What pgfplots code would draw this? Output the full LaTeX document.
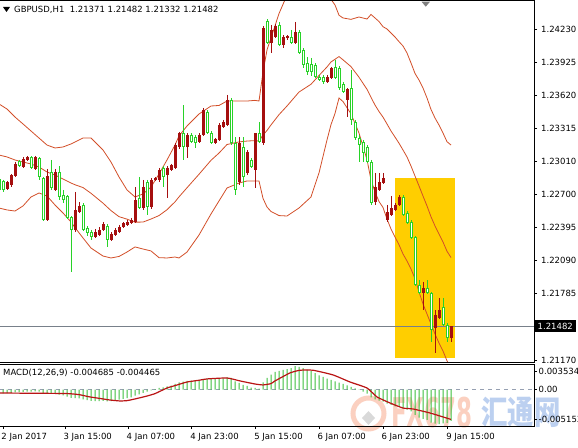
\documentclass[border=0pt]{standalone}
\usepackage{fontspec}
\setmainfont{DejaVu Sans}
\newfontfamily\cjk{Noto Sans CJK SC}
\usepackage{graphicx}
\usepackage{pgfplots}
\usepackage{pgfplotstable}
\pgfplotsset{compat=1.18}

\definecolor{cgreen}{RGB}{40,210,40}
\definecolor{cred}{RGB}{165,15,15}
\definecolor{bband}{RGB}{210,78,40}
\definecolor{hlyellow}{RGB}{255,206,0}
\definecolor{hline}{RGB}{120,128,138}
\definecolor{hgreen}{RGB}{60,190,60}
\definecolor{sigred}{RGB}{185,20,20}
\definecolor{zgray}{RGB}{150,160,178}
\definecolor{wmorange}{RGB}{251,208,192}
\definecolor{wmblue}{RGB}{188,208,240}
\newcommand\mtf{\fontsize{8.5bp}{10bp}\selectfont}

% bearish (green, hollow) candles
\pgfplotstableread{
x o h l c
0 1.22843 1.22852 1.22732 1.22742
1 1.22825 1.22834 1.22723 1.22742
5 1.23010 1.23019 1.22954 1.22963
8 1.23047 1.23056 1.22936 1.22945
10 1.23037 1.23047 1.22834 1.22862
11 1.22852 1.22862 1.22455 1.22464
13 1.22908 1.23019 1.22742 1.22760
15 1.22908 1.22963 1.22649 1.22677
16 1.22695 1.22742 1.22621 1.22649
17 1.22686 1.22695 1.22473 1.22483
18 1.22492 1.22501 1.21983 1.22372
21 1.22603 1.22621 1.22362 1.22372
22 1.22390 1.22409 1.22316 1.22344
23 1.22353 1.22372 1.22279 1.22307
27 1.22409 1.22427 1.22214 1.22279
35 1.22667 1.22862 1.22566 1.22575
37 1.22815 1.22834 1.22510 1.22584
41 1.22945 1.22963 1.22769 1.22862
46 1.23268 1.23527 1.23019 1.23139
48 1.23250 1.23268 1.23176 1.23185
49 1.23231 1.23250 1.23130 1.23176
52 1.23463 1.23481 1.23259 1.23268
53 1.23268 1.23287 1.23167 1.23176
58 1.23574 1.23592 1.23157 1.23176
59 1.23176 1.23231 1.22695 1.22742
61 1.23139 1.23231 1.22769 1.22862
63 1.23019 1.23037 1.22945 1.22954
65 1.23268 1.23370 1.23176 1.23185
67 1.24304 1.24322 1.24091 1.24100
70 1.24267 1.24295 1.24073 1.24082
73 1.24156 1.24221 1.24091 1.24100
75 1.24202 1.24221 1.23999 1.24008
76 1.24036 1.24054 1.23869 1.23897
77 1.23916 1.23971 1.23805 1.23832
78 1.23906 1.23962 1.23795 1.23832
79 1.23897 1.23916 1.23777 1.23786
80 1.23786 1.23805 1.23749 1.23758
81 1.23786 1.23805 1.23721 1.23740
84 1.23879 1.23943 1.23768 1.23777
85 1.23869 1.23888 1.23666 1.23684
86 1.23721 1.23740 1.23638 1.23647
88 1.23684 1.23851 1.23342 1.23389
89 1.23370 1.23389 1.23204 1.23222
90 1.23222 1.23250 1.23000 1.23157
91 1.23185 1.23204 1.23000 1.23084
92 1.23139 1.23157 1.22991 1.23000
93 1.23000 1.23019 1.22603 1.22621
101 1.22677 1.22695 1.22501 1.22510
102 1.22529 1.22547 1.22427 1.22436
103 1.22446 1.22464 1.22288 1.22298
104 1.22307 1.22316 1.21854 1.21863
105 1.21863 1.21909 1.21780 1.21789
107 1.21835 1.21909 1.21780 1.21789
108 1.21789 1.21799 1.21336 1.21447
111 1.21660 1.21743 1.21484 1.21493
112 1.21493 1.21512 1.21336 1.21373
}\down

% bullish (dark red, filled) candles
\pgfplotstableread{
x o h l c
2 1.22751 1.22825 1.22742 1.22815
3 1.22788 1.22889 1.22769 1.22880
4 1.22871 1.23000 1.22862 1.22982
6 1.22954 1.23047 1.22945 1.23028
7 1.23019 1.23056 1.23010 1.23047
9 1.22936 1.23056 1.22926 1.23047
12 1.22464 1.22936 1.22455 1.22871
14 1.22742 1.22936 1.22732 1.22908
19 1.22372 1.22723 1.22353 1.22557
20 1.22538 1.22630 1.22529 1.22594
24 1.22307 1.22381 1.22298 1.22353
25 1.22325 1.22399 1.22316 1.22372
26 1.22372 1.22446 1.22362 1.22427
28 1.22279 1.22353 1.22270 1.22335
29 1.22325 1.22390 1.22316 1.22372
30 1.22353 1.22418 1.22344 1.22399
31 1.22399 1.22446 1.22390 1.22436
32 1.22418 1.22464 1.22409 1.22446
33 1.22436 1.22483 1.22427 1.22464
34 1.22446 1.22769 1.22436 1.22649
36 1.22575 1.22834 1.22557 1.22769
38 1.22584 1.22852 1.22566 1.22834
39 1.22834 1.22862 1.22825 1.22852
40 1.22834 1.22945 1.22815 1.22926
42 1.22880 1.22963 1.22667 1.22945
43 1.22926 1.22982 1.22917 1.22973
44 1.22945 1.23176 1.22936 1.23157
45 1.23139 1.23278 1.23120 1.23268
47 1.23139 1.23268 1.23037 1.23250
50 1.23185 1.23268 1.23176 1.23250
51 1.23250 1.23500 1.23241 1.23481
54 1.23176 1.23222 1.23167 1.23213
55 1.23204 1.23361 1.23194 1.23342
56 1.23324 1.23389 1.23315 1.23370
57 1.23342 1.23620 1.23333 1.23574
60 1.22815 1.23231 1.22788 1.23176
62 1.22899 1.23111 1.22880 1.23093
64 1.22926 1.23268 1.22760 1.23268
66 1.23176 1.24258 1.23157 1.24239
68 1.24100 1.24267 1.24008 1.24221
69 1.24156 1.24276 1.24147 1.24258
71 1.24082 1.24174 1.24054 1.24156
72 1.24147 1.24174 1.24128 1.24165
74 1.24100 1.24295 1.24091 1.24202
82 1.23740 1.23805 1.23731 1.23786
83 1.23777 1.23879 1.23768 1.23869
87 1.23574 1.23684 1.23416 1.23675
94 1.22630 1.22899 1.22603 1.22769
95 1.22742 1.22899 1.22732 1.22815
96 1.22806 1.22899 1.22797 1.22852
97 1.22464 1.22603 1.22446 1.22538
98 1.22510 1.22686 1.22501 1.22575
99 1.22557 1.22621 1.22547 1.22603
100 1.22603 1.22695 1.22594 1.22677
106 1.21789 1.21891 1.21632 1.21835
109 1.21466 1.21632 1.21235 1.21586
110 1.21558 1.21743 1.21549 1.21632
113 1.21371 1.21482 1.21332 1.21482
}\up

% Bollinger bands (upper, middle, lower)
\pgfplotstableread{
x u m l
0 1.23537 1.23065 1.22575
2 1.23490 1.23047 1.22557
4 1.23416 1.23019 1.22547
6 1.23352 1.23000 1.22594
8 1.23287 1.22982 1.22677
10 1.23222 1.22954 1.22714
12 1.23157 1.22908 1.22686
14 1.23130 1.22880 1.22603
16 1.23139 1.22843 1.22529
18 1.23167 1.22806 1.22446
19 1.23185 1.22790 1.22394
21 1.23222 1.22764 1.22298
23 1.23222 1.22711 1.22205
26 1.23111 1.22620 1.22131
28 1.23000 1.22551 1.22113
30 1.22862 1.22495 1.22127
32 1.22742 1.22472 1.22168
34 1.22677 1.22444 1.22215
36 1.22705 1.22445 1.22196
38 1.22769 1.22473 1.22178
40 1.22889 1.22505 1.22116
42 1.23019 1.22559 1.22113
44 1.23157 1.22632 1.22122
45 1.23241 1.22678 1.22113
47 1.23333 1.22762 1.22168
50 1.23444 1.22887 1.22325
53 1.23518 1.23016 1.22520
55 1.23523 1.23083 1.22640
57 1.23564 1.23162 1.22760
60 1.23564 1.23186 1.22806
62 1.23564 1.23194 1.22825
64 1.23570 1.23198 1.22825
65 1.23564 1.23194 1.22825
66 1.23832 1.23249 1.22664
67 1.24036 1.23292 1.22584
68 1.24147 1.23343 1.22543
70 1.24372 1.23438 1.22505
72 1.24544 1.23518 1.22501
75 1.24720 1.23647 1.22575
78 1.24738 1.23719 1.22677
80 1.24701 1.23800 1.22899
82 1.24572 1.23879 1.23204
83 1.24504 1.23925 1.23346
84 1.24452 1.23950 1.23449
85 1.24357 1.23975 1.23592
86 1.24332 1.23945 1.23559
88 1.24319 1.23882 1.23446
90 1.24341 1.23784 1.23268
92 1.24322 1.23672 1.23022
93 1.24364 1.23598 1.22834
94 1.24332 1.23527 1.22723
95 1.24299 1.23467 1.22635
96 1.24251 1.23415 1.22580
97 1.24230 1.23352 1.22473
98 1.24193 1.23287 1.22381
99 1.24156 1.23231 1.22307
100 1.24113 1.23174 1.22235
101 1.24073 1.23111 1.22150
102 1.24008 1.23047 1.22085
103 1.23916 1.22963 1.22011
104 1.23819 1.22871 1.21922
105 1.23758 1.22779 1.21799
106 1.23684 1.22686 1.21688
107 1.23592 1.22594 1.21595
108 1.23486 1.22494 1.21503
109 1.23407 1.22409 1.21410
110 1.23342 1.22335 1.21327
111 1.23268 1.22261 1.21253
112 1.23188 1.22175 1.21162
113 1.23157 1.22117 1.21087
}\bb

% MACD main (histogram)
\pgfplotstableread{
x m
0 -0.00055
1 -0.00055
2 -0.00052
3 -0.00048
4 -0.00042
5 -0.00038
6 -0.00033
7 -0.00030
8 -0.00030
9 -0.00027
10 -0.00032
11 -0.00060
12 -0.00058
13 -0.00065
14 -0.00062
15 -0.00075
16 -0.00085
17 -0.00105
18 -0.00125
19 -0.00128
20 -0.00130
21 -0.00145
22 -0.00158
23 -0.00170
24 -0.00172
25 -0.00172
26 -0.00168
27 -0.00175
28 -0.00172
29 -0.00165
30 -0.00150
31 -0.00140
32 -0.00128
33 -0.00115
34 -0.00090
35 -0.00072
36 -0.00050
37 -0.00030
38 -0.00010
39 0.00008
40 0.00025
41 0.00035
42 0.00048
43 0.00060
44 0.00085
45 0.00110
46 0.00118
47 0.00130
48 0.00135
49 0.00140
50 0.00145
51 0.00162
52 0.00165
53 0.00160
54 0.00158
55 0.00164
56 0.00170
57 0.00185
58 0.00175
59 0.00125
60 0.00100
61 0.00070
62 0.00055
63 0.00030
64 0.00025
65 0.00015
66 0.00110
67 0.00175
68 0.00225
69 0.00265
70 0.00280
71 0.00295
72 0.00305
73 0.00320
74 0.003534
75 0.00340
76 0.00320
77 0.00300
78 0.00280
79 0.00245
80 0.00215
81 0.00190
82 0.00165
83 0.00145
84 0.00125
85 0.00105
86 0.00085
87 0.00065
88 0.00040
89 0.00020
90 0.00002
91 -0.00030
92 -0.00060
93 -0.00115
94 -0.00145
95 -0.00165
96 -0.00180
97 -0.00210
98 -0.00230
99 -0.00250
100 -0.00260
101 -0.00280
102 -0.00300
103 -0.00325
104 -0.00380
105 -0.00420
106 -0.00440
107 -0.00455
108 -0.00495
109 -0.00510
110 -0.005153
111 -0.00505
112 -0.00500
113 -0.004685
}\macd

% MACD signal line
\pgfplotstableread{
x s
0 -0.00051
10 -0.00055
17 -0.00059
20 -0.00075
22.75 -0.00110
25 -0.00130
27.75 -0.00156
30.25 -0.00170
32 -0.00165
34 -0.00140
37 -0.00096
39 -0.00060
42 0.00024
44 0.00060
47 0.00114
50 0.00140
52 0.00160
57 0.00174
60.25 0.00130
64 0.00084
66 0.00070
68 0.00090
69 0.00130
72.75 0.00250
75.25 0.00290
78.5 0.00290
83.5 0.00220
87.75 0.00114
92 0.00024
94.5 -0.00110
97.75 -0.00200
101 -0.00276
103.5 -0.00290
107.75 -0.00350
113 -0.004465
}\sig

\begin{document}
\begin{tikzpicture}[x=1bp,y=1bp]
\useasboundingbox (0bp,0bp) rectangle (578bp,448bp);

% watermark (behind everything)
\draw[wmorange, line width=5bp] (368.5bp,34.5bp) circle (15.5bp);
\fill[black!15] (362bp,30bp) -- (368.5bp,23bp) -- (375bp,30bp) -- (368.5bp,37bp) -- cycle;
\node[anchor=base west, inner sep=0pt, text=wmorange] at (391bp,21bp)
  {\scalebox{0.56}[1]{\fontsize{41bp}{41bp}\selectfont\bfseries FX678}};
\node[anchor=base west, inner sep=0pt, text=wmblue] at (481bp,24bp)
  {\scalebox{0.8}[1]{\cjk\fontsize{33bp}{33bp}\selectfont\bfseries 汇通网}};

% ---------- price panel ----------
\begin{axis}[
  name=main, at={(0bp,447bp)}, anchor=north west,
  scale only axis, width=534bp, height=361bp,
  xmin=0.25, xmax=133.75, ymin=1.211513, ymax=1.244888,
  clip mode=individual,
  axis line style={draw=none},
  xtick=\empty,
  ytick={1.2423,1.23925,1.2362,1.23315,1.2301,1.22705,1.22395,1.2209,1.21785,1.2117},
  yticklabels={1.24230,1.23925,1.23620,1.23315,1.23010,1.22700,1.22395,1.22090,1.21785,1.21170},
  ytick pos=right, yticklabel pos=right,
  tick align=outside, major tick length=3bp,
  tick style={black, line width=0.8bp},
  yticklabel style={font=\mtf, anchor=west, inner sep=0pt, xshift=4bp},
  scaled y ticks=false,
  /pgf/number format/assume math mode=true,
]
\fill[hlyellow] (axis cs:99,1.22852) rectangle (axis cs:114,1.21188);
\draw[hline, line width=1bp] (axis cs:0.25,1.21482) -- (axis cs:133.75,1.21482);

\addplot[bband, line width=0.8bp, mark=none] table[x=x, y=u] {\bb};
\addplot[bband, line width=0.8bp, mark=none] table[x=x, y=m] {\bb};
\addplot[bband, line width=0.8bp, mark=none] table[x=x, y=l] {\bb};

% green candles: wick, outline body, white interior
\addplot[draw=none, mark=none, error bars/.cd, y dir=minus, y explicit, error mark=none,
  error bar style={draw=cgreen, line width=1bp}]
  table[x=x, y=h, y error minus expr=\thisrow{h}-\thisrow{l}] {\down};
\addplot[draw=none, mark=none, error bars/.cd, y dir=minus, y explicit, error mark=none,
  error bar style={draw=cgreen, line width=3bp}]
  table[x=x, y=o, y error minus expr=\thisrow{o}-\thisrow{c}] {\down};
\addplot[draw=none, mark=none, error bars/.cd, y dir=minus, y explicit, error mark=none,
  error bar style={draw=white, line width=1bp, shorten <=1bp, shorten >=1bp}]
  table[x=x, y=o, y error minus expr=\thisrow{o}-\thisrow{c}] {\down};

% red candles: wick and filled body
\addplot[draw=none, mark=none, error bars/.cd, y dir=minus, y explicit, error mark=none,
  error bar style={draw=cred, line width=1bp}]
  table[x=x, y=h, y error minus expr=\thisrow{h}-\thisrow{l}] {\up};
\addplot[draw=none, mark=none, error bars/.cd, y dir=minus, y explicit, error mark=none,
  error bar style={draw=cred, line width=3bp}]
  table[x=x, y=c, y error minus expr=\thisrow{c}-\thisrow{o}] {\up};

% last price tag
\node[fill=black, text=white, font=\mtf, anchor=west, inner xsep=3.5bp, inner ysep=0pt,
  minimum height=11.5bp] at (axis cs:133.75,1.21482) {1.21482};
\end{axis}

% ---------- MACD panel ----------
\begin{axis}[
  name=macd, at={(0bp,83.5bp)}, anchor=north west,
  scale only axis, width=534bp, height=61.5bp,
  xmin=0.25, xmax=133.75, ymin=-0.00545, ymax=0.00376,
  clip mode=individual,
  axis line style={draw=none},
  xtick={1,16.5,32.3,48.2,64.2,80,96,112.2},
  xticklabels={2 Jan 2017,3 Jan 15:00,4 Jan 07:00,4 Jan 23:00,5 Jan 15:00,6 Jan 07:00,6 Jan 23:00,9 Jan 15:00},
  xtick pos=bottom,
  ytick={0.002786,0,-0.004404},
  yticklabels={0.003534,0.00,-0.005153},
  ytick pos=right, yticklabel pos=right,
  tick align=outside, major tick length=3bp,
  tick style={black, line width=0.8bp},
  xticklabel style={font=\mtf, anchor=north west, inner sep=0pt, xshift=-1.7bp, yshift=-3.5bp},
  yticklabel style={font=\mtf, anchor=west, inner sep=0pt, xshift=1.5bp},
  scaled y ticks=false,
  /pgf/number format/assume math mode=true,
]
\draw[zgray, line width=0.8bp, dash pattern=on 4bp off 4bp] (axis cs:0.25,0) -- (axis cs:133.75,0);
\addplot[ybar, bar width=1bp, fill=hgreen, draw=none] table[x=x, y=m] {\macd};
\addplot[sigred, line width=1.2bp, mark=none, smooth, tension=0.3] table[x=x, y=s] {\sig};
\end{axis}

% panel borders
\draw[line width=1bp] (main.north west) -- (main.north east) -- (main.south east) -- (main.south west);
\draw[line width=1bp] (macd.north west) -- (macd.north east) -- (macd.south east) -- (macd.south west);

% header texts
\fill[black] (3bp,441bp) -- (10bp,441bp) -- (6.5bp,436bp) -- cycle;
\node[anchor=base west, inner sep=0pt, font=\mtf] at (14bp,435.5bp)
  {GBPUSD,H1\ \ 1.21371 1.21482 1.21332 1.21482};
\node[anchor=base west, inner sep=0pt, font=\mtf] at (3bp,72.5bp)
  {MACD(12,26,9) -0.004685 -0.004465};
% chart shift marker
\fill[black!50] (421.5bp,446.3bp) -- (430bp,446.3bp) -- (425.75bp,441.3bp) -- cycle;
\end{tikzpicture}
\end{document}
